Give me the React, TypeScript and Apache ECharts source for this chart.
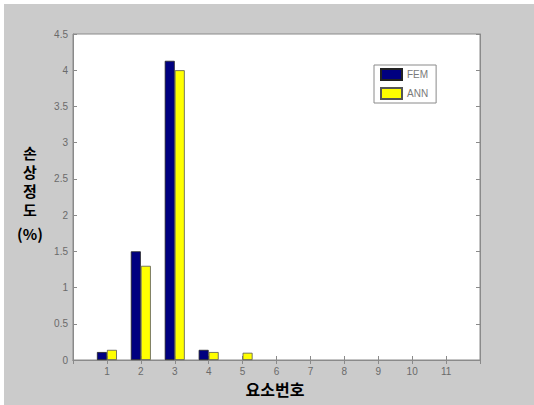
import React, { useEffect, useRef } from "react";
import * as echarts from "echarts";

const categories = ["", "1", "2", "3", "4", "5", "6", "7", "8", "9", "10", "11", ""];
const femValues = [0.11, 1.5, 4.13, 0.14, 0, 0, 0, 0, 0, 0, 0];
const annValues = [0.14, 1.3, 4.0, 0.11, 0.1, 0, 0, 0, 0, 0, 0];
const seriesNames = ["FEM", "ANN"];
const yTitleChars = ["손", "상", "정", "도"];
const yTitleUnit = "(%)";
const xTitle = "요소번호";

export default function App() {
  const ref = useRef<HTMLDivElement>(null);
  useEffect(() => {
    if (!ref.current) return;
    const chart = echarts.init(ref.current, undefined, { renderer: "svg" });
    const toData = (arr: number[]) => [
      null,
      ...arr.map((v) => (v === 0 ? { value: v, itemStyle: { borderWidth: 0 } } : v)),
      null,
    ];
    const tickFont = { fontSize: 10, color: "#6a6a6a", fontFamily: "Liberation Sans, Arial, sans-serif" };
    const axisColor = "#8a8a8a";
    chart.setOption({
      animation: false,
      backgroundColor: "#cbcbcb",
      grid: {
        left: 73,
        top: 34,
        right: 54,
        bottom: 45,
        show: true,
        backgroundColor: "#ffffff",
        borderColor: axisColor,
        borderWidth: 1,
      },
      legend: {
        data: seriesNames,
        orient: "vertical",
        left: 374,
        top: 65,
        icon: "rect",
        itemWidth: 21,
        itemHeight: 11,
        itemGap: 6,
        padding: [3, 8, 3, 6],
        borderColor: axisColor,
        borderWidth: 1,
        backgroundColor: "#ffffff",
        textStyle: { fontSize: 10, color: "#7a7a7a", fontFamily: "Liberation Sans, Arial, sans-serif" },
      },
      xAxis: [
        {
          type: "category",
          data: categories,
          boundaryGap: false,
          axisLine: { show: true, lineStyle: { color: axisColor } },
          axisTick: { show: true, inside: true, length: 4, lineStyle: { color: axisColor } },
          axisLabel: { ...tickFont, margin: 6 },
          splitLine: { show: false },
        },
        {
          type: "category",
          data: categories,
          boundaryGap: false,
          position: "top",
          axisLine: { show: true, lineStyle: { color: axisColor } },
          axisTick: { show: true, inside: true, length: 4, lineStyle: { color: axisColor } },
          axisLabel: { show: false },
        },
      ],
      yAxis: [
        {
          type: "value",
          min: 0,
          max: 4.5,
          interval: 0.5,
          axisLine: { show: true, lineStyle: { color: axisColor } },
          axisTick: { show: true, inside: true, length: 4, lineStyle: { color: axisColor } },
          axisLabel: { ...tickFont, margin: 5 },
          splitLine: { show: false },
        },
        {
          type: "value",
          min: 0,
          max: 4.5,
          interval: 0.5,
          position: "right",
          axisLine: { show: true, lineStyle: { color: axisColor } },
          axisTick: { show: true, inside: true, length: 4, lineStyle: { color: axisColor } },
          axisLabel: { show: false },
          splitLine: { show: false },
        },
      ],
      series: [
        {
          name: seriesNames[0],
          type: "bar",
          data: toData(femValues),
          barWidth: 10,
          barGap: "0%",
          itemStyle: { color: "#000080", borderColor: "#222222", borderWidth: 0.8 },
        },
        {
          name: seriesNames[1],
          type: "bar",
          data: toData(annValues),
          barWidth: 10,
          barGap: "0%",
          itemStyle: { color: "#ffff00", borderColor: "#555555", borderWidth: 0.8 },
        },
      ],
      graphic: [
        { type: "rect", left: 0, top: 0, shape: { width: 534, height: 4 }, style: { fill: "#ffffff" }, z: 100 },
        { type: "rect", left: 0, top: 0, shape: { width: 4, height: 405 }, style: { fill: "#ffffff" }, z: 100 },
        {
          type: "text",
          x: 30,
          y: 143,
          style: {
            text: yTitleChars.join("\n"),
            font: "bold 15px 'Noto Sans CJK KR', sans-serif",
            lineHeight: 19,
            fill: "#000000",
            align: "center",
          },
        },
        {
          type: "text",
          x: 30,
          y: 233,
          style: {
            text: yTitleUnit,
            font: "bold 15px 'Noto Sans CJK KR', sans-serif",
            fill: "#000000",
            align: "center",
            verticalAlign: "middle",
          },
        },
        {
          type: "text",
          x: 275,
          y: 389,
          style: {
            text: xTitle,
            font: "bold 16px 'Noto Sans CJK KR', sans-serif",
            fill: "#000000",
            align: "center",
            verticalAlign: "middle",
          },
        },
      ],
    });
    return () => chart.dispose();
  }, []);
  return (
    <div
      ref={ref}
      style={{ position: "fixed", left: 0, top: 0, width: 534, height: 405 }}
    />
  );
}
